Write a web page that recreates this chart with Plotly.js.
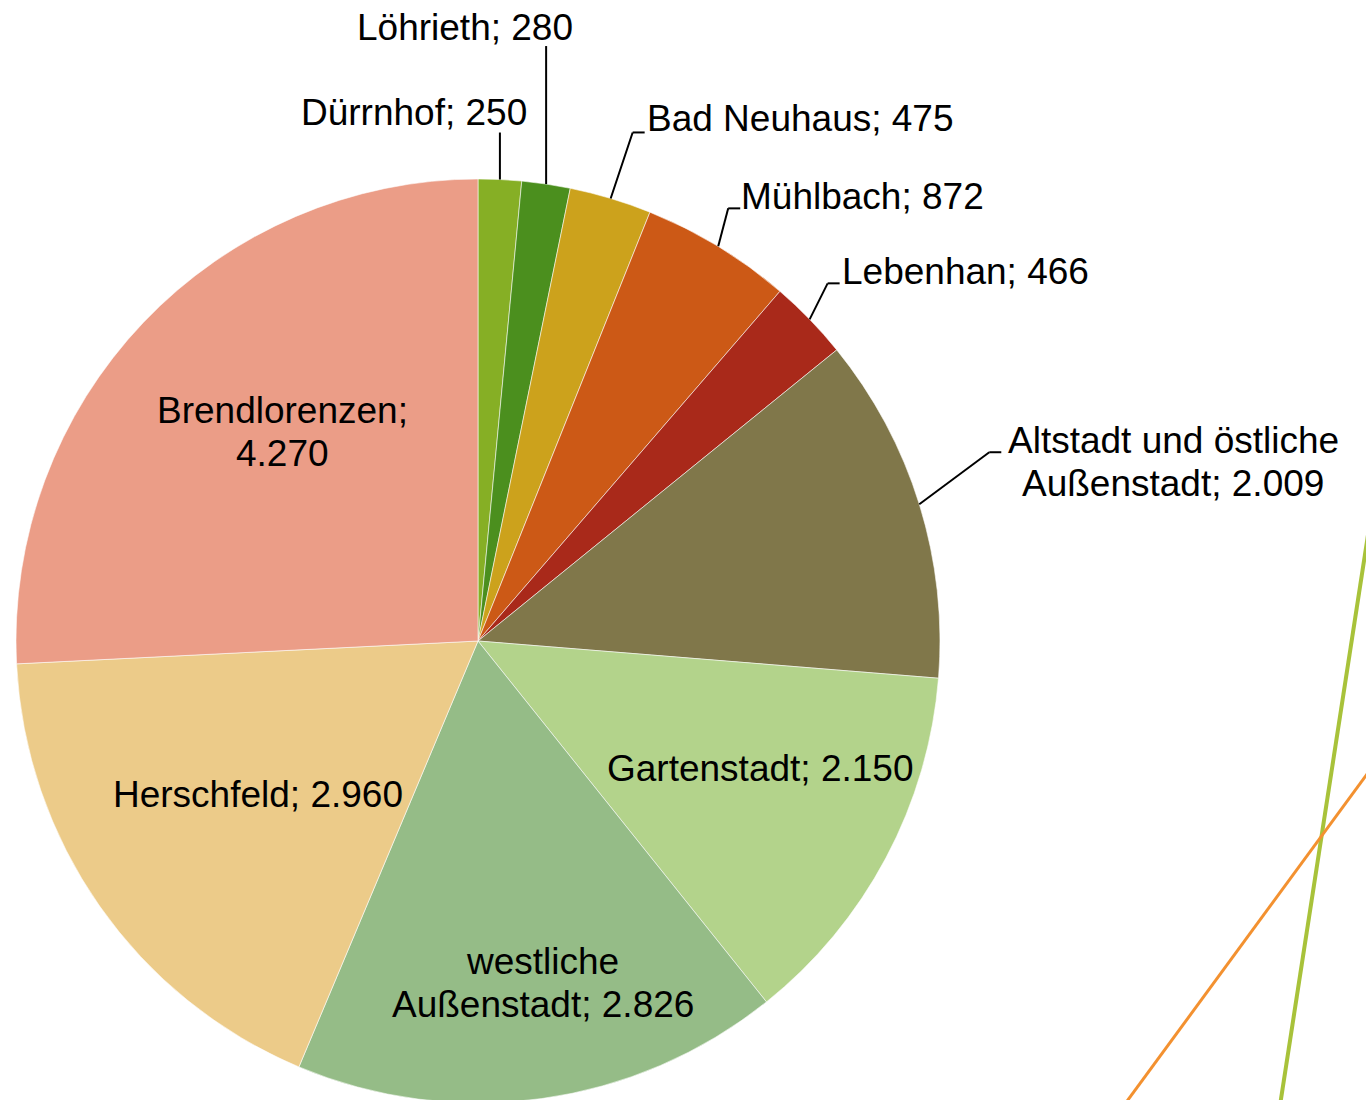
<!DOCTYPE html>
<html><head><meta charset="utf-8">
<script src="https://cdn.plot.ly/plotly-3.0.1.min.js"></script>
<style>html,body{margin:0;padding:0;overflow:hidden;background:#fff}#chart{width:1366px;height:1106px}</style>
</head><body><div id="chart"></div>
<script>
// ---- data ----
const districts = ["Dürrnhof","Löhrieth","Bad Neuhaus","Mühlbach","Lebenhan","Altstadt und östliche Außenstadt","Gartenstadt","westliche Außenstadt","Herschfeld","Brendlorenzen"];
const residents = [250,280,475,872,466,2009,2150,2826,2960,4270];
const sliceColors = ["#86AF25","#4B8F1E","#CCA21C","#CC5916","#A9291A","#80774A","#B3D38B","#95BC87","#ECCB89","#EB9D87"];
const wrapAfter = [null,null,null,null,null,"östliche ",null,"westliche ",null,"Brendlorenzen; "];

// ---- layout / style ----
const W = 1366, H = 1106, CX = 478, CY = 641, R = 462;
const FONT = "Liberation Sans, Arial, sans-serif", FS = 37, LINE_GAP = 43;
const labelStyle = [
  {out:true, elbow:[0,-47],  tail:0,  xanchor:'right',  dx:29,  dy:-20},
  {out:true, elbow:[0,-138], tail:0,  xanchor:'center', dx:-81, dy:-19},
  {out:true, elbow:[22,-66], tail:12, xanchor:'left',   dx:0,   dy:-14},
  {out:true, elbow:[10,-38], tail:12, xanchor:'left',   dx:-1,  dy:-12},
  {out:true, elbow:[18,-36], tail:12, xanchor:'left',   dx:0,   dy:-12},
  {out:true, elbow:[70,-52], tail:12, xanchor:'center', dx:172, dy:9.5},
  {out:false, rf:0.67,  xanchor:'center', dx:9,  dy:-18},
  {out:false, rf:0.753, xanchor:'center', dx:17, dy:-3},
  {out:false, rf:0.58,  xanchor:'center', dx:-1, dy:0},
  {out:false, rf:0.62,  xanchor:'center', dx:12, dy:-12}
];
const decor = [
  {x0:1368, y0:535, x1:1279, y1:1112, color:"#A8C23A", width:4},
  {x0:1370, y0:770, x1:1122, y1:1108, color:"#F39130", width:3}
];

const fmt = v => String(v).replace(/\B(?=(\d{3})+(?!\d))/g, '.');
const px = x => x / W, py = y => 1 - y / H;

const total = residents.reduce((a,b)=>a+b,0);
let cum = 0;
const shapes = [], annotations = [];
residents.forEach((v,i) => {
  const mid = (cum + v/2) / total * 2 * Math.PI; cum += v;
  const dirx = Math.sin(mid), diry = -Math.cos(mid);
  const st = labelStyle[i];
  const full = districts[i] + "; " + fmt(v);
  let lines = [full];
  if (wrapAfter[i]) { const k = full.indexOf(wrapAfter[i]) + wrapAfter[i].length; lines = [full.slice(0,k).trim(), full.slice(k).trim()]; }
  let ax, ay;
  if (st.out) {
    const ex = CX + R*dirx, ey = CY + R*diry;
    const bx = ex + st.elbow[0], by = ey + st.elbow[1];
    const tx = bx + st.tail;
    shapes.push({type:'line', xref:'paper', yref:'paper', x0:px(ex), y0:py(ey), x1:px(bx), y1:py(by), line:{color:'#000', width:2}});
    if (st.tail) shapes.push({type:'line', xref:'paper', yref:'paper', x0:px(bx), y0:py(by), x1:px(tx), y1:py(by), line:{color:'#000', width:2}});
    ax = tx + st.dx; ay = by + st.dy;
  } else {
    ax = CX + R*st.rf*dirx + st.dx; ay = CY + R*st.rf*diry + st.dy;
  }
  lines.forEach((ln, j) => {
    const yy = ay + (j - (lines.length-1)/2) * LINE_GAP;
    annotations.push({text: ln, xref:'paper', yref:'paper', x:px(ax), y:py(yy), xanchor:st.xanchor, yanchor:'middle', showarrow:false, font:{family:FONT, size:FS, color:'#000'}});
  });
});
decor.forEach(d => shapes.push({type:'line', xref:'paper', yref:'paper', x0:px(d.x0), y0:py(d.y0), x1:px(d.x1), y1:py(d.y1), line:{color:d.color, width:d.width}}));

const trace = {
  type:'pie', labels: districts, values: residents, sort:false, direction:'clockwise', rotation:0,
  marker:{colors: sliceColors, line:{color:'rgba(255,255,255,0.7)', width:0.8}},
  textinfo:'none', hoverinfo:'label+value', showlegend:false,
  domain:{x:[px(CX-R), px(CX+R)], y:[py(CY+R), py(CY-R)]}
};
const layout = {
  width: W, height: H, margin:{l:0,r:0,t:0,b:0}, paper_bgcolor:'#fff', plot_bgcolor:'#fff',
  showlegend:false, shapes, annotations, font:{family:FONT}
};
Plotly.newPlot('chart', [trace], layout, {displayModeBar:false, staticPlot:true});
</script>
</body></html>
